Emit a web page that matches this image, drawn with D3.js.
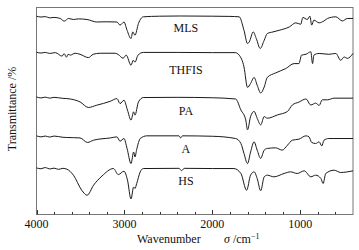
<!DOCTYPE html>
<html>
<head>
<meta charset="utf-8">
<script src="https://cdn.jsdelivr.net/npm/d3@7"></script>
<style>
  html, body { margin: 0; padding: 0; background: #fff; }
  #chart { width: 359px; height: 250px; }
  text { font-family: "Liberation Serif", "Times New Roman", serif; fill: #111; }
</style>
</head>
<body>
<div id="chart"></div>
<script>
// wavenumber (cm-1), transmittance (stacked, arbitrary %)
const MLS = [
  [4000, 95.8], [3950, 95.4], [3900, 95.6], [3850, 95.0], [3800, 95.2], [3730, 94.7],
  [3685, 93.4], [3635, 94.7], [3580, 94.2], [3525, 94.5], [3425, 94.2], [3315, 93.0],
  [3200, 93.1], [3085, 93.0], [3050, 91.5], [3005, 93.0], [2970, 89.0], [2925, 85.0],
  [2905, 88.2], [2880, 86.6], [2840, 92.3], [2785, 95.5], [2600, 95.8], [2365, 95.9],
  [2000, 95.8], [1800, 95.7], [1695, 95.5], [1640, 89.0], [1600, 82.6], [1580, 83.4],
  [1535, 88.2], [1500, 85.0], [1455, 80.2], [1410, 84.2], [1375, 87.4], [1310, 88.2],
  [1240, 89.0], [1125, 90.6], [1050, 92.6], [995, 91.9], [970, 95.2], [920, 94.2],
  [890, 95.8], [870, 91.5], [845, 93.9], [785, 92.6], [730, 93.5], [690, 94.7],
  [595, 95.5], [520, 93.5], [465, 94.7], [400, 94.7]
];
const THFIS = [
  [4000, 78.4], [3950, 78.0], [3900, 78.3], [3850, 77.8], [3785, 78.2], [3710, 76.5],
  [3685, 77.7], [3660, 76.0], [3640, 77.4], [3615, 77.0], [3560, 77.9], [3505, 77.4],
  [3410, 75.8], [3355, 77.4], [3275, 77.9], [3105, 77.9], [3070, 77.3], [3015, 75.5],
  [2980, 77.0], [2925, 72.1], [2900, 74.5], [2880, 73.6], [2845, 77.0], [2785, 78.3],
  [2400, 78.3], [2000, 78.2], [1740, 78.2], [1695, 77.0], [1640, 71.3], [1600, 61.4],
  [1565, 63.3], [1525, 66.2], [1490, 62.5], [1450, 58.7], [1410, 61.6], [1375, 66.2],
  [1280, 68.4], [1165, 70.5], [1070, 72.9], [1015, 72.9], [985, 77.0], [935, 77.4],
  [880, 78.6], [860, 72.9], [845, 77.0], [785, 77.8], [675, 77.4], [595, 77.8],
  [540, 74.5], [500, 76.1], [465, 75.4], [400, 77.8]
];
const PA = [
  [4000, 56.8], [3950, 56.3], [3900, 56.7], [3850, 56.2], [3800, 56.6], [3700, 56.1],
  [3655, 56.0], [3570, 55.4], [3505, 54.4], [3410, 51.7], [3315, 52.8], [3160, 54.7],
  [3085, 56.0], [3050, 53.6], [3005, 55.2], [2965, 50.4], [2925, 45.6], [2895, 49.6],
  [2880, 48.0], [2840, 54.4], [2785, 56.5], [2400, 56.6], [2000, 56.4], [1735, 55.8],
  [1675, 50.5], [1620, 45.7], [1600, 40.9], [1565, 47.3], [1525, 49.8], [1490, 46.5],
  [1450, 43.3], [1410, 47.3], [1375, 46.5], [1260, 48.1], [1145, 49.8], [1090, 52.9],
  [1015, 54.3], [935, 55.8], [880, 52.9], [825, 53.8], [785, 52.7], [750, 55.4],
  [690, 55.4], [615, 56.2], [400, 56.2]
];
const A = [
  [4000, 38.0], [3950, 37.5], [3900, 37.9], [3850, 37.4], [3800, 37.9], [3700, 37.3],
  [3655, 37.2], [3505, 37.0], [3420, 34.8], [3350, 35.9], [3160, 37.0], [3085, 37.5],
  [3050, 35.4], [3005, 36.7], [2970, 31.9], [2925, 24.6], [2895, 30.2], [2880, 27.8],
  [2860, 31.5], [2820, 36.7], [2745, 38.0], [2380, 38.0], [2360, 37.0], [2340, 38.0],
  [2000, 37.8], [1735, 36.7], [1675, 34.3], [1640, 29.5], [1600, 24.6], [1565, 30.2],
  [1525, 35.1], [1490, 31.1], [1450, 27.1], [1410, 31.1], [1375, 31.9], [1280, 32.2],
  [1205, 31.1], [1145, 33.5], [1090, 35.9], [1015, 36.4], [935, 38.0], [900, 37.5],
  [870, 34.8], [825, 34.3], [785, 35.1], [755, 33.1], [730, 35.9], [675, 36.7], [400, 36.7]
];
const HS = [
  [4000, 22.5], [3950, 22.1], [3900, 22.7], [3850, 22.0], [3800, 22.4], [3750, 21.8],
  [3700, 22.3], [3655, 21.9], [3580, 19.0], [3485, 11.7], [3425, 9.3], [3350, 14.2],
  [3255, 18.6], [3125, 22.2], [3070, 19.3], [3005, 20.9], [2965, 16.6], [2925, 7.5],
  [2895, 13.3], [2880, 12.6], [2860, 15.0], [2820, 20.6], [2785, 22.2], [2380, 22.3],
  [2350, 21.2], [2320, 22.3], [2000, 22.2], [1755, 22.2], [1675, 19.8], [1610, 11.7],
  [1565, 19.0], [1525, 20.6], [1490, 17.4], [1450, 11.5], [1410, 18.2], [1375, 19.0],
  [1300, 18.2], [1185, 19.8], [1110, 20.6], [1035, 19.8], [955, 21.1], [880, 18.2],
  [825, 19.0], [765, 17.4], [740, 15.0], [710, 19.8], [615, 21.4], [540, 20.3], [400, 21.1]
];

const seriesNames = ["MLS", "THFIS", "PA", "A", "HS"];
const seriesData = [MLS, THFIS, PA, A, HS];
// label positions: [wavenumber, transmittance]
const labelPos = [[2300, 90.2], [2300, 70.0], [2300, 50.2], [2300, 31.5], [2300, 16.0]];

const xMajorTicks = [4000, 3000, 2000, 1000];
const xMinorTicks = d3.range(3800, 400, -200);

const W = 359, H = 250;
const margin = { left: 36.5, right: 6, top: 7.5, bottom: 35.5 };

const svg = d3.select("#chart").append("svg")
  .attr("width", W).attr("height", H);

const x = d3.scaleLinear().domain([4000, 400]).range([margin.left, W - margin.right]);
const y = d3.scaleLinear().domain([0, 100]).range([H - margin.bottom, margin.top]);

// frame
svg.append("rect")
  .attr("x", margin.left).attr("y", margin.top)
  .attr("width", W - margin.right - margin.left)
  .attr("height", H - margin.bottom - margin.top)
  .attr("fill", "none").attr("stroke", "#777").attr("stroke-width", 1);

// bottom ticks pointing inward
const axisY = H - margin.bottom;
svg.append("g").selectAll("line.minor")
  .data(xMinorTicks.filter(d => !xMajorTicks.includes(d)))
  .enter().append("line")
  .attr("x1", d => Math.round(x(d)) + 0.5).attr("x2", d => Math.round(x(d)) + 0.5)
  .attr("y1", axisY).attr("y2", axisY - 2.5)
  .attr("stroke", "#333").attr("stroke-width", 1);

svg.append("g").selectAll("line.major")
  .data(xMajorTicks)
  .enter().append("line")
  .attr("x1", d => Math.round(x(d)) + 0.5).attr("x2", d => Math.round(x(d)) + 0.5)
  .attr("y1", axisY).attr("y2", axisY - 4.5)
  .attr("stroke", "#333").attr("stroke-width", 1);

svg.append("g").selectAll("text")
  .data(xMajorTicks)
  .enter().append("text")
  .attr("x", d => x(d)).attr("y", axisY + 13)
  .attr("text-anchor", "middle")
  .attr("font-size", "12px")
  .text(d => d);

// spectra
const line = d3.line()
  .x(d => x(d[0]))
  .y(d => y(d[1]))
  .curve(d3.curveMonotoneX);

svg.append("g").selectAll("path")
  .data(seriesData)
  .enter().append("path")
  .attr("d", line)
  .attr("fill", "none")
  .attr("stroke", "#1a1a1a")
  .attr("stroke-width", 1);

svg.append("g").selectAll("text")
  .data(seriesNames)
  .enter().append("text")
  .attr("x", (d, i) => x(labelPos[i][0]))
  .attr("y", (d, i) => y(labelPos[i][1]))
  .attr("text-anchor", "middle")
  .attr("dominant-baseline", "central")
  .attr("font-size", "12px")
  .text(d => d);

// axis titles
const xt = svg.append("text")
  .attr("x", 137).attr("y", 243)
  .attr("font-size", "12px");
xt.append("tspan").text("Wavenumber");
xt.append("tspan").attr("x", 224).attr("font-style", "italic").text("σ");
xt.append("tspan").text(" /cm");
xt.append("tspan").attr("dy", -4).attr("font-size", "8px").text("−1");

svg.append("text")
  .attr("transform", "translate(16,109) rotate(-90)")
  .attr("text-anchor", "middle")
  .attr("font-size", "12px")
  .text("Transmittance /%");
</script>
</body>
</html>
